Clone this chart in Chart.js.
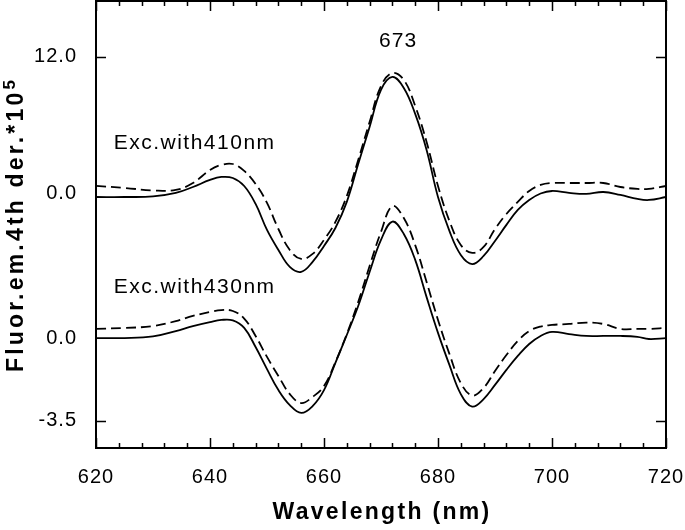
<!DOCTYPE html>
<html>
<head>
<meta charset="utf-8">
<script src="https://cdn.jsdelivr.net/npm/chart.js@4.4.0/dist/chart.umd.min.js"></script>
<style>
html,body{margin:0;padding:0;background:#fff;}
canvas{display:block;}
</style>
</head>
<body>
<canvas id="c" width="685" height="530"></canvas>
<script>
// ---- data ----
const wavelengths = [620,625,630,634,637,640,642,644,646,648,650,652,654,656,658,660,662,664,666,668,670,672,674,676,678,680,682,684,686,688,690,692,694,696,698,700,703,706,709,712,715,717,720];

// Exc. with 410 nm (upper pair, upper scale)
const exc410Solid  = [-0.33,-0.33,-0.28,0.03,0.55,1.17,1.43,1.34,0.64,-0.94,-3.22,-4.98,-6.47,-6.91,-6.03,-4.63,-3.05,-0.76,2.57,5.82,9.08,10.22,9.25,6.97,3.80,-0.33,-3.31,-5.42,-6.22,-5.51,-4.19,-2.78,-1.46,-0.59,-0.02,0.20,0.03,-0.06,0.11,-0.15,-0.50,-0.59,-0.33];
const exc410Dashed = [0.64,0.47,0.25,0.29,0.90,2.04,2.49,2.57,1.96,0.82,-0.85,-3.14,-4.98,-5.77,-5.33,-4.10,-2.52,-0.24,2.93,6.26,9.42,10.57,9.96,7.67,4.51,0.64,-2.43,-4.54,-5.24,-4.72,-3.14,-1.82,-0.76,0.20,0.73,0.90,0.90,0.90,0.90,0.55,0.38,0.38,0.64];

// Exc. with 430 nm (lower pair, lower scale)
const exc430Solid  = [0.01,0.01,0.08,0.31,0.52,0.69,0.78,0.76,0.44,-0.37,-1.31,-2.20,-2.84,-3.17,-2.88,-2.20,-1.04,0.14,1.37,2.82,4.18,4.96,4.43,3.33,1.75,0.23,-1.13,-2.37,-2.90,-2.58,-1.98,-1.34,-0.75,-0.24,0.10,0.27,0.18,0.10,0.10,0.10,0.06,-0.03,0.01];
const exc430Dashed = [0.40,0.44,0.52,0.73,0.95,1.12,1.20,1.16,0.84,0.10,-0.79,-1.60,-2.37,-2.75,-2.49,-2.03,-1.01,0.18,1.54,3.07,4.52,5.62,5.11,3.96,2.39,0.78,-0.66,-1.90,-2.43,-2.11,-1.39,-0.71,-0.11,0.31,0.50,0.57,0.61,0.67,0.61,0.40,0.40,0.40,0.44];

// tick labels
const xTickValues = [620,640,660,680,700,720];
const upperTickValues = [12.0, 0.0];
const lowerTickValues = [0.0, -3.5];

// axis ranges (upper scale on y, lower scale on y2)
const Y_MIN = -22.38, Y_MAX = 16.89;
const Y2_MIN = -4.66, Y2_MAX = 14.33;

const FONT = '"Liberation Sans", Arial, Helvetica, sans-serif';

function pts(ys){ return wavelengths.map((x,i)=>({x:x,y:ys[i]})); }
function lowerToUpper(v){ return Y_MIN + (v - Y2_MIN) / (Y2_MAX - Y2_MIN) * (Y_MAX - Y_MIN); }

const yTickPositions = upperTickValues.concat(lowerTickValues.map(lowerToUpper));
const yTickLabels = upperTickValues.concat(lowerTickValues).map(v => v.toFixed(1));

const lineBase = {pointRadius:0, borderColor:'#000', borderWidth:1.8, fill:false, tension:0.4};

const framePlugin = {
  id:'frame',
  beforeDraw(chart){
    chart.ctx.letterSpacing = '1px';
  },
  afterDraw(chart){
    const ctx = chart.ctx;
    const a = chart.chartArea;
    const sx = chart.scales.x, sy = chart.scales.y, sy2 = chart.scales.y2;
    ctx.save();
    ctx.strokeStyle = '#000';
    ctx.lineWidth = 2;
    ctx.strokeRect(a.left, a.top, a.right-a.left, a.bottom-a.top);
    ctx.lineWidth = 1.5;
    ctx.beginPath();
    for (let v = 620; v <= 720; v += 4) {
      const px = Math.round(sx.getPixelForValue(v)) + 0.5;
      const len = (v % 20 === 0) ? 10 : 5;
      ctx.moveTo(px, a.bottom); ctx.lineTo(px, a.bottom - len);
      ctx.moveTo(px, a.top); ctx.lineTo(px, a.top + len);
    }
    const yt = [sy.getPixelForValue(12), sy2.getPixelForValue(-3.5)];
    yt.forEach(p => {
      const py = Math.round(p) + 0.5;
      ctx.moveTo(a.left, py); ctx.lineTo(a.left + 10, py);
      ctx.moveTo(a.right, py); ctx.lineTo(a.right - 10, py);
    });
    ctx.stroke();

    ctx.fillStyle = '#000';
    ctx.font = '21px ' + FONT;
    ctx.letterSpacing = '1.5px';
    ctx.textBaseline = 'middle';
    ctx.textAlign = 'right';
    ctx.fillText('Exc.with410nm', sx.getPixelForValue(651.5), sy.getPixelForValue(4.37));
    ctx.fillText('Exc.with430nm', sx.getPixelForValue(651.5), sy2.getPixelForValue(2.16));
    ctx.textAlign = 'center';
    ctx.letterSpacing = '1px';
    ctx.fillText('673', sx.getPixelForValue(673), sy.getPixelForValue(13.38));

    ctx.font = 'bold 23px ' + FONT;
    ctx.letterSpacing = '2.3px';
    ctx.textAlign = 'center';
    ctx.fillText('Wavelength (nm)', (a.left + a.right)/2 + 1, 513);

    ctx.translate(17, (a.top + a.bottom)/2);
    ctx.rotate(-Math.PI/2);
    ctx.textAlign = 'left';
    ctx.font = 'bold 23px ' + FONT;
    ctx.letterSpacing = '3.2px';
    const main = 'Fluor.em.4th der.*10';
    const wMain = ctx.measureText(main).width;
    ctx.font = 'bold 17px ' + FONT;
    const wSup = ctx.measureText('5').width;
    const start = -(wMain + wSup)/2;
    ctx.font = 'bold 23px ' + FONT;
    ctx.fillText(main, start, 0);
    ctx.font = 'bold 17px ' + FONT;
    ctx.fillText('5', start + wMain, -7);
    ctx.restore();
  }
};

new Chart(document.getElementById('c'), {
  type:'line',
  data:{
    datasets:[
      Object.assign({label:'Exc.with410nm solid', data:pts(exc410Solid), yAxisID:'y'}, lineBase),
      Object.assign({label:'Exc.with410nm dashed', data:pts(exc410Dashed), yAxisID:'y', borderDash:[10,5]}, lineBase),
      Object.assign({label:'Exc.with430nm solid', data:pts(exc430Solid), yAxisID:'y2'}, lineBase),
      Object.assign({label:'Exc.with430nm dashed', data:pts(exc430Dashed), yAxisID:'y2', borderDash:[10,5]}, lineBase)
    ]
  },
  options:{
    responsive:false,
    devicePixelRatio:1,
    animation:false,
    events:[],
    plugins:{legend:{display:false}, tooltip:{enabled:false}},
    layout:{padding:{top:1, right:19, left:0, bottom:0}},
    scales:{
      x:{
        type:'linear', min:620, max:720,
        grid:{display:false, drawTicks:false}, border:{display:false},
        afterBuildTicks(s){ s.ticks = xTickValues.map(v=>({value:v})); },
        afterFit(s){ s.height = 82; s.paddingLeft = 0; s.paddingRight = 0; },
        ticks:{font:{family:FONT, size:20}, color:'#000', padding:17, maxRotation:0, autoSkip:false, callback:v=>String(v)}
      },
      y:{
        type:'linear', position:'left', min:Y_MIN, max:Y_MAX,
        grid:{display:false, drawTicks:false}, border:{display:false},
        afterBuildTicks(s){ s.ticks = yTickPositions.map(v=>({value:v})); },
        afterFit(s){ s.width = 96; s.paddingTop = 0; s.paddingBottom = 0; },
        ticks:{font:{family:FONT, size:20}, color:'#000', padding:19, autoSkip:false, callback:(v,i)=>yTickLabels[i]}
      },
      y2:{
        type:'linear', display:false, min:Y2_MIN, max:Y2_MAX
      }
    }
  },
  plugins:[framePlugin]
});
</script>
</body>
</html>
